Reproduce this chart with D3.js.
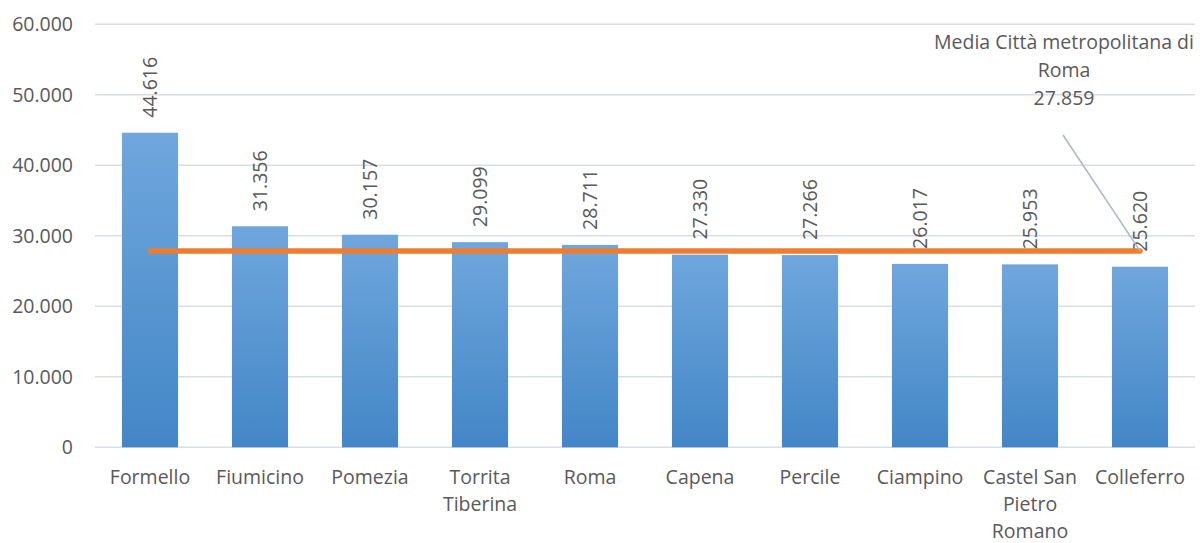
<!DOCTYPE html>
<html><head><meta charset="utf-8">
<script src="https://cdn.jsdelivr.net/npm/d3@7"></script>
<style>
html,body{margin:0;padding:0;background:#fff;}
svg{display:block;}
text{font-family:"Open Sans",sans-serif;fill:#595959;}
</style></head>
<body><svg id="chart" width="1200" height="543"></svg>
<script>
const categories = ["Formello","Fiumicino","Pomezia","Torrita Tiberina","Roma","Capena","Percile","Ciampino","Castel San Pietro Romano","Colleferro"];
const categoryLines = [["Formello"],["Fiumicino"],["Pomezia"],["Torrita","Tiberina"],["Roma"],["Capena"],["Percile"],["Ciampino"],["Castel San","Pietro","Romano"],["Colleferro"]];
const values = [44616,31356,30157,29099,28711,27330,27266,26017,25953,25620];
const valueLabels = ["44.616","31.356","30.157","29.099","28.711","27.330","27.266","26.017","25.953","25.620"];
const meanValue = 27859;
const meanLabelLines = ["Media Città metropolitana di","Roma","27.859"];
const yTicks = [0,10000,20000,30000,40000,50000,60000];
const yTickLabels = ["0","10.000","20.000","30.000","40.000","50.000","60.000"];

const svg = d3.select("#chart");
const fs = 19.5;
const x = d3.scaleBand().domain(categories).range([95,1195]).paddingInner(0.49).paddingOuter(0.245);
const y = d3.scaleLinear().domain([0,60000]).range([447.3,24.3]);

const defs = svg.append("defs");
const grad = defs.append("linearGradient").attr("id","barGrad").attr("x1",0).attr("y1",0).attr("x2",0).attr("y2",1);
grad.append("stop").attr("offset","0%").attr("stop-color","#6fa7dd");
grad.append("stop").attr("offset","100%").attr("stop-color","#4386c7");

// gridlines
svg.append("g").selectAll("line").data(yTicks).join("line")
  .attr("x1",95).attr("x2",1195)
  .attr("y1",d=>y(d)).attr("y2",d=>y(d))
  .attr("stroke","#d9dee6").attr("stroke-width",1.5);

// y labels
svg.append("g").selectAll("text").data(yTicks).join("text")
  .attr("x",73).attr("y",d=>y(d)).attr("dy","0.36em")
  .attr("text-anchor","end").attr("font-size",fs)
  .text((d,i)=>yTickLabels[i]);

// bars
svg.append("g").selectAll("rect").data(values).join("rect")
  .attr("x",(d,i)=>x(categories[i])).attr("width",x.bandwidth())
  .attr("y",d=>y(d)).attr("height",d=>y(0)-y(d))
  .attr("fill","url(#barGrad)");

// value labels (rotated)
svg.append("g").selectAll("text").data(values).join("text")
  .attr("transform",(d,i)=>`translate(${x(categories[i])+x.bandwidth()/2},${y(d)-15}) rotate(-90)`)
  .attr("dy","0.36em").attr("font-size",fs).attr("text-anchor","start")
  .text((d,i)=>valueLabels[i]);

// category labels
const cl = svg.append("g").selectAll("text").data(categoryLines).join("text")
  .attr("text-anchor","middle").attr("font-size",fs)
  .attr("transform",(d,i)=>`translate(${x(categories[i])+x.bandwidth()/2},484)`);
cl.selectAll("tspan").data(d=>d).join("tspan")
  .attr("x",0).attr("y",(d,i)=>i*27).text(d=>d);

// mean line
const cx0 = x(categories[0])+x.bandwidth()/2;
const cx1 = x(categories[categories.length-1])+x.bandwidth()/2;
svg.append("line").attr("x1",cx0).attr("x2",cx1).attr("y1",y(meanValue)).attr("y2",y(meanValue))
  .attr("stroke","#ed7d31").attr("stroke-width",5.5).attr("stroke-linecap","round");

// leader line
svg.append("line").attr("x1",1063).attr("y1",135).attr("x2",cx1).attr("y2",y(meanValue))
  .attr("stroke","#aab6c6").attr("stroke-width",1.5);

// mean label
svg.append("g").selectAll("text").data(meanLabelLines).join("text")
  .attr("x",1064).attr("y",(d,i)=>49+i*28).attr("text-anchor","middle").attr("font-size",fs)
  .text(d=>d);
</script></body></html>
